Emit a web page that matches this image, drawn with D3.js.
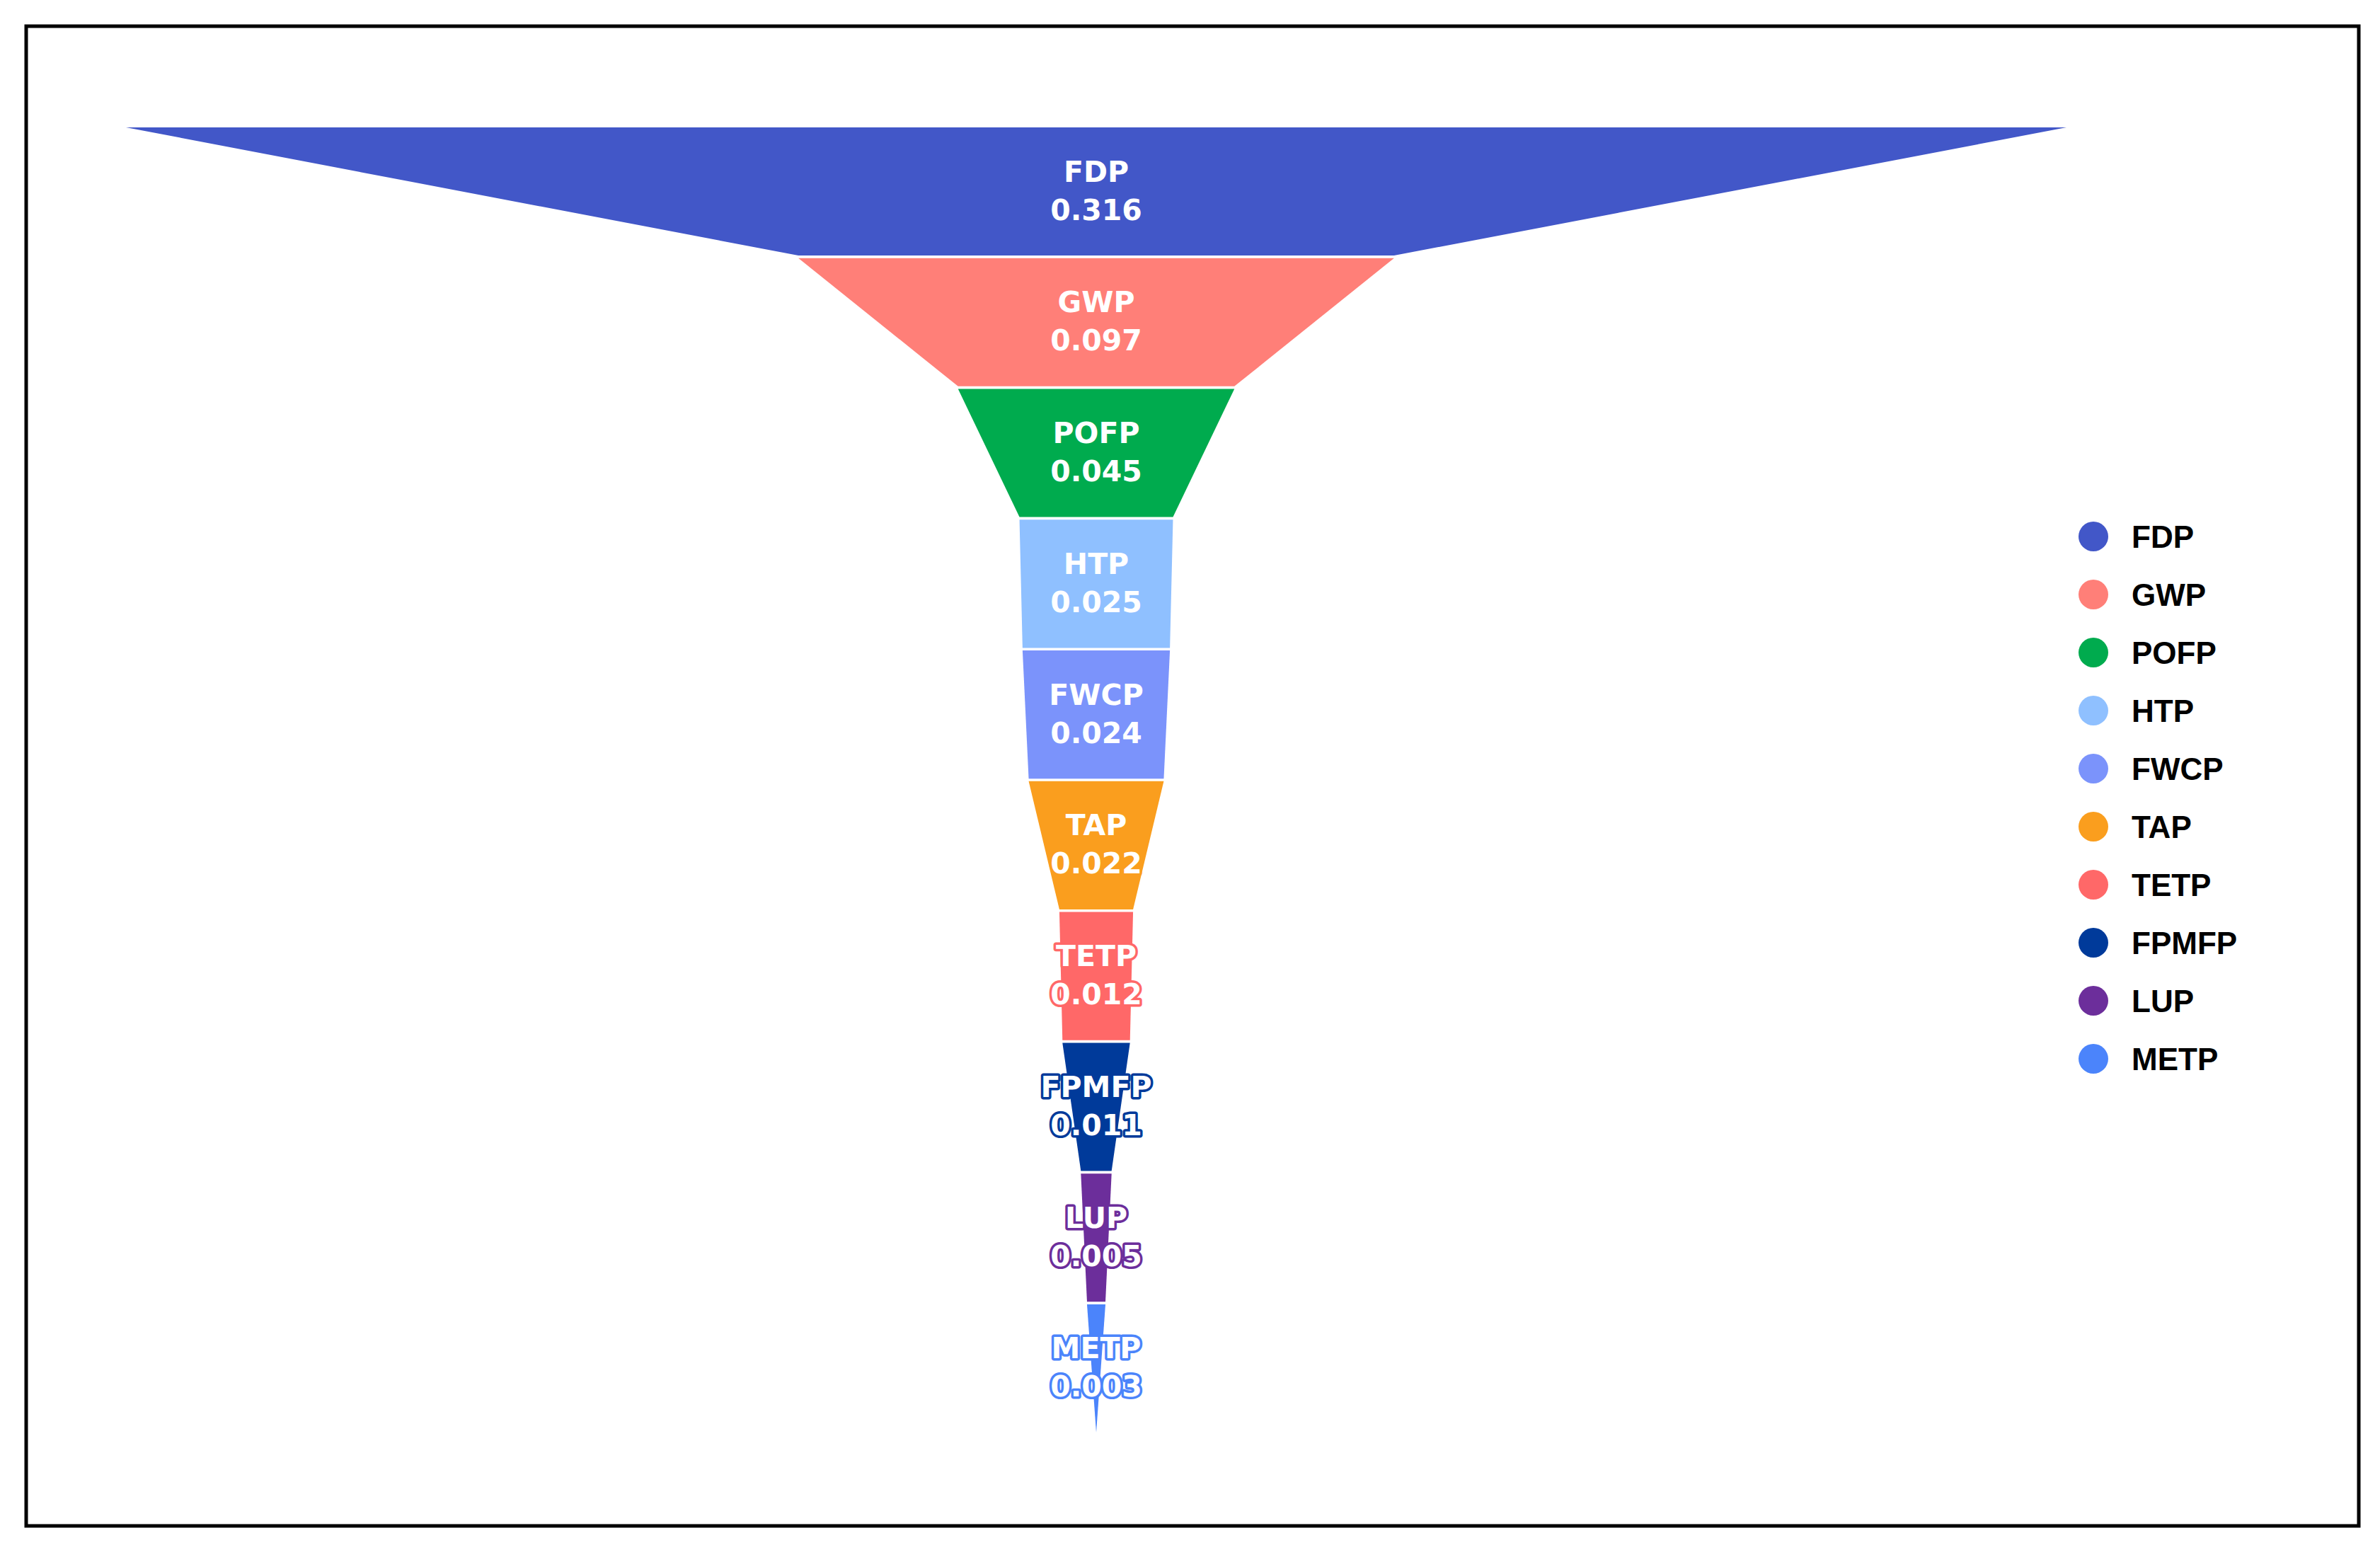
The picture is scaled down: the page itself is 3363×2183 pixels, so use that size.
<!DOCTYPE html>
<html><head><meta charset="utf-8">
<script src="https://cdn.jsdelivr.net/npm/d3@7"></script>
<style>body{margin:0;background:#fff}</style></head>
<body><svg id="c" width="3363" height="2183"></svg>
<script>
const categories = ["FDP","GWP","POFP","HTP","FWCP","TAP","TETP","FPMFP","LUP","METP"];
const values = [0.316,0.097,0.045,0.025,0.024,0.022,0.012,0.011,0.005,0.003];
const colors = ["#4257c8","#ff7f78","#00ab4e","#8fc0ff","#7b93fb","#fa9e1e","#ff6868","#003a9a","#6c2e9b","#4b84fb"];

const svg = d3.select("#c");
svg.append("rect").attr("x",37).attr("y",37).attr("width",3296).attr("height",2119)
  .attr("fill","none").attr("stroke","#000").attr("stroke-width",5);

const cx = 1549;
const w = d3.scaleLinear().domain([0,0.316]).range([0,2742]);
const y = d3.scaleBand().domain(categories).range([180,2024]).paddingInner(0.02).paddingOuter(0);

const g = svg.append("g");
categories.forEach((c,i)=>{
  const top = w(values[i])/2, bot = w(i<values.length-1?values[i+1]:0)/2;
  const y0 = y(c), y1 = y0 + y.bandwidth();
  g.append("path").attr("d",`M${cx-top},${y0}L${cx+top},${y0}L${cx+bot},${y1}L${cx-bot},${y1}Z`).attr("fill",colors[i]);
  const ym = y0 + y.bandwidth()/2;
  [[c,ym-14],[values[i].toFixed(3),ym+40]].forEach(([t,yy])=>{
    g.append("text").attr("x",cx).attr("y",yy).attr("text-anchor","middle")
      .attr("font-family","DejaVu Sans").attr("font-weight","bold").attr("font-size",41)
      .attr("fill","#fff").attr("stroke",colors[i]).attr("stroke-width",7)
      .attr("paint-order","stroke").attr("stroke-linejoin","round").text(t);
  });
});

const leg = svg.append("g");
categories.forEach((c,i)=>{
  const ly = 758 + i*82;
  leg.append("circle").attr("cx",2958).attr("cy",ly).attr("r",21).attr("fill",colors[i]);
  leg.append("text").attr("x",3012).attr("y",ly+16).attr("font-family","Liberation Sans, Arial")
    .attr("font-weight","bold").attr("font-size",44).attr("fill","#000").text(c);
});
</script></body></html>
